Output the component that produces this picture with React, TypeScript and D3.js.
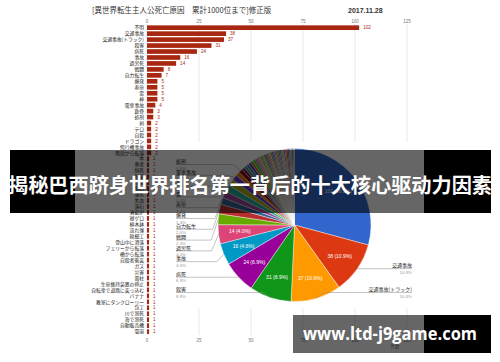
import React from 'react';
import * as d3 from 'd3';

// data (sorted like the original sheet)
const categories = [
  '不明', '交通事故', '交通事故(トラック)', '殺害', '病死', '事故', '過労死', '戦闘', '自力転生',
  '爆発', '寿命', '雷', '神', '電車事故', '鉄骨', '処刑', '剣', 'テロ', '自殺', 'ドラゴン',
  '飛行機事故', '階段から転落', '本', '勇者', '焼死', '転落', '窒息', '隕石', '凍死', '失血',
  '落石', '溶鉱炉', '寝ゲロ', '植木鉢', '流れ弾', '飴細工', '登山中に滑落', 'フェリーから転落',
  '橋から転落', '自殺者衝突', 'ガス', '災害', '電柱', '生命維持装置の停止', '自転車で道路に突っ込む',
  'バナナ', '教室にタンクローリー', '包丁', '川で溺死', '海で溺死', '自動販売機', '雪崩'
];
const counts = [
  102, 38, 37, 31, 24, 16, 14, 8, 7,
  5, 5, 5, 5, 4, 3, 3, 2, 2, 2, 2,
  2, 2, 1, 1, 1, 1, 1, 1, 1, 1,
  1, 1, 1, 1, 1, 1, 1, 1,
  1, 1, 1, 1, 1, 1, 1,
  1, 1, 1, 1, 1, 1, 1
];
const axisTicks = [0, 25, 50, 75, 100, 125];
const titleText = '[異世界転生主人公死亡原因　累計1000位まで]修正版';
const dateText = '2017.11.28';
const axisTitle = '件数';
const bannerText = '揭秘巴西跻身世界排名第一背后的十大核心驱动力因素';
const watermarkText = 'www.ltd-j9game.com';

// google-ish palette for the pie
const pieColors = [
  '#3366cc', '#dc3912', '#ff9900', '#109618', '#990099', '#0099c6', '#dd4477', '#66aa00',
  '#b82e2e', '#316395', '#994499', '#22aa99', '#aaaa11', '#6633cc', '#e67300', '#8b0707',
  '#651067', '#329262', '#5574a6', '#3b3eac', '#b77322', '#16d620', '#b91383', '#f4359e',
  '#9c5935', '#a9c413', '#2a778d', '#668d1c', '#bea413', '#0c5922', '#743411'
];
const leftLabeled = ['殺害', '病死', '事故', '過労死', '戦闘', '自力転生', '爆発', '寿命', '雷', '神', '電車事故', '処刑'];
const rightLabeled = ['交通事故', '交通事故(トラック)'];
const insideMin = 14;

const JP = '"Noto Sans CJK JP", sans-serif';
const barColor = '#a82711';

type Lab = { name: string; pct: string; ex: number; ey: number; ly: number };

// push labels apart so they don't overlap, keep them inside the bounds
function spread(labels: Lab[], gap: number, top: number, bottom: number) {
  labels.sort((a, b) => a.ly - b.ly);
  for (let k = 0; k < 200; k++) {
    for (let i = 1; i < labels.length; i++) {
      const diff = labels[i].ly - labels[i - 1].ly;
      if (diff < gap) {
        const d = (gap - diff) / 2;
        labels[i - 1].ly -= d;
        labels[i].ly += d;
      }
    }
    labels.forEach(l => { l.ly = Math.max(top, Math.min(bottom, l.ly)); });
  }
  for (let i = 1; i < labels.length; i++) labels[i].ly = Math.max(labels[i].ly, labels[i - 1].ly + gap);
  return labels;
}

export default function App() {
  const x = d3.scaleLinear().domain([0, 125]).range([147, 407]);
  const y = d3.scaleBand().domain(categories).range([24.7, 334.6]).paddingInner(0.22).paddingOuter(0.11);
  const bw = y.bandwidth();

  // pie
  const cx = 294.5, cy = 225, r = 76.5;
  const total = d3.sum(counts);
  const pct = (v: number) => d3.format('.1f')((v / total) * 100) + '%';
  const slices = d3.pie<number>().sort(null).value(d => d)(counts);
  const arc = d3.arc<d3.PieArcDatum<number>>().innerRadius(0).outerRadius(r);
  const inner = d3.arc<d3.PieArcDatum<number>>().innerRadius(r * 0.72).outerRadius(r * 0.72);

  const makeLab = (name: string): Lab => {
    const i = categories.indexOf(name);
    const s = slices[i];
    const mid = (s.startAngle + s.endAngle) / 2;
    const ex = cx + r * Math.sin(mid);
    const ey = cy - r * Math.cos(mid);
    return { name, pct: pct(counts[i]), ex, ey, ly: ey };
  };
  const lefts = spread(leftLabeled.map(makeLab), 10.8, cy - r + 16, cy + r - 9);
  const rights = spread(rightLabeled.map(makeLab), 10.8, cy - r + 16, cy + r - 9);

  return (
    <svg width={500} height={362} style={{ position: 'absolute', left: 0, top: 0, background: '#fff' }}>
      <rect width={500} height={362} fill="#fff" />

      {/* title */}
      <text x={92} y={13} fontSize={7.5} fontFamily={JP} fill="#333">{titleText}</text>
      <text x={348} y={13} fontSize={7} fontWeight="bold" fontFamily="Arial, 'Liberation Sans', sans-serif" fill="#333">{dateText}</text>

      {/* grid + axis labels */}
      {axisTicks.map(t => (
        <g key={t}>
          <line x1={x(t)} x2={x(t)} y1={24} y2={335} stroke="#e3e3e3" strokeWidth={0.8} />
          <text x={x(t)} y={22.5} fontSize={4.5} textAnchor="middle" fill="#777" fontFamily="Arial, sans-serif">{t}</text>
          <text x={x(t)} y={341.5} fontSize={4.5} textAnchor="middle" fill="#777" fontFamily="Arial, sans-serif">{t}</text>
        </g>
      ))}
      <text x={395} y={348} fontSize={4.5} textAnchor="middle" fill="#777" fontFamily={JP}>{axisTitle}</text>

      {/* bars */}
      {categories.map((c, i) => (
        <g key={c}>
          <rect x={x(0)} y={y(c)} width={x(counts[i]) - x(0)} height={bw} fill={barColor} />
          <text x={144} y={(y(c) as number) + bw / 2 + 1.7} fontSize={4.8} textAnchor="end" fill="#222" fontFamily={JP}>{c}</text>
          <text x={x(counts[i]) + 4} y={(y(c) as number) + bw / 2 + 1.7} fontSize={4.6} fill={barColor} fontFamily="Arial, sans-serif">{counts[i]}</text>
        </g>
      ))}

      {/* pie panel */}
      <rect x={163} y={142} width={268} height={166} fill="#fff" />
      {slices.map((s, i) => (
        <path key={i} d={arc(s) as string} transform={`translate(${cx},${cy})`}
          fill={pieColors[i % pieColors.length]} stroke="#fff" strokeWidth={0.4} />
      ))}
      {slices.map((s, i) => {
        if (counts[i] < insideMin) return null;
        const [px, py] = inner.centroid(s);
        return (
          <text key={'in' + i} x={cx + px} y={cy + py + 1.8} fontSize={5} textAnchor="middle" fill="#fff" fontFamily="Arial, sans-serif">
            {counts[i]} ({pct(counts[i])})
          </text>
        );
      })}
      {lefts.map(l => (
        <g key={l.name}>
          <polyline points={`176,${l.ly} ${Math.max(190, l.ex - 7)},${l.ly} ${l.ex},${l.ey}`} fill="none" stroke="#888" strokeWidth={0.5} />
          <text x={176} y={l.ly - 1.3} fontSize={5} fill="#222" fontFamily={JP}>{l.name}</text>
          <text x={176} y={l.ly + 5} fontSize={4.4} fill="#999" fontFamily="Arial, sans-serif">{l.pct}</text>
        </g>
      ))}
      {rights.map(l => (
        <g key={l.name}>
          <polyline points={`412,${l.ly} ${Math.min(400, l.ex + 7)},${l.ly} ${l.ex},${l.ey}`} fill="none" stroke="#888" strokeWidth={0.5} />
          <text x={412} y={l.ly - 1.3} fontSize={5} textAnchor="end" fill="#222" fontFamily={JP}>{l.name}</text>
          <text x={412} y={l.ly + 5} fontSize={4.4} textAnchor="end" fill="#999" fontFamily="Arial, sans-serif">{l.pct}</text>
        </g>
      ))}

      {/* banner overlay */}
      <rect x={10} y={150} width={65} height={63} fill="#000" />
      <rect x={75} y={150} width={349} height={63} fill="#000" opacity={0.6} />
      <rect x={424} y={150} width={67} height={63} fill="#000" />
      <text x={250} y={193} fontSize={20} fontWeight="bold" textAnchor="middle" fill="#fff"
        fontFamily='"Noto Sans CJK SC", sans-serif' textLength={484} lengthAdjust="spacingAndGlyphs">{bannerText}</text>

      {/* watermark */}
      <rect x={293} y={315} width={131} height={38} fill="#000" opacity={0.6} />
      <rect x={424} y={315} width={67} height={38} fill="#000" />
      <text x={303} y={340} fontSize={17} fontWeight="bold" fill="#fff" fontFamily='"Open Sans", sans-serif'
        textLength={174} lengthAdjust="spacingAndGlyphs">{watermarkText}</text>
    </svg>
  );
}
